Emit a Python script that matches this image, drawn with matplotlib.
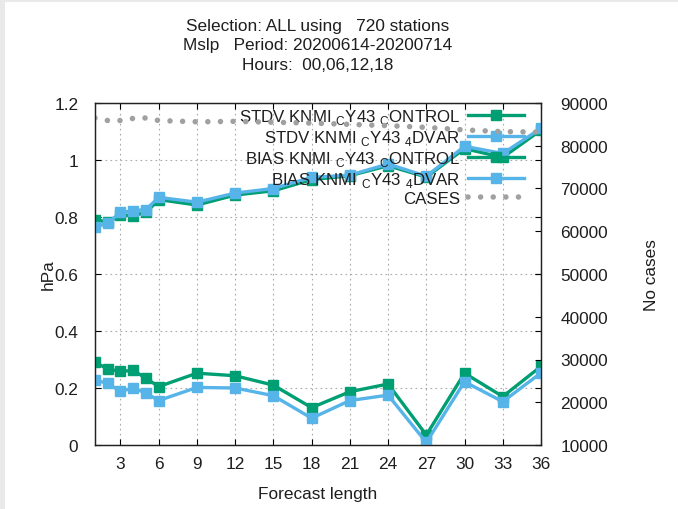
import matplotlib
matplotlib.use("Agg")
import matplotlib.pyplot as plt
from matplotlib.patches import Rectangle

plt.rcParams['font.family'] = ['Liberation Sans', 'DejaVu Sans']
plt.rcParams['mathtext.fontset'] = 'custom'
plt.rcParams['mathtext.rm'] = 'Liberation Sans'

# Forecast lead times (hours)
lead = [1, 2, 3, 4, 5, 6, 9, 12, 15, 18, 21, 24, 27, 30, 33, 36]

stdv_control = [0.79, 0.783, 0.807, 0.805, 0.816, 0.861, 0.842, 0.877, 0.892, 0.931,
                0.945, 0.98, 0.94, 1.04, 1.009, 1.105]
stdv_4dvar = [0.764, 0.779, 0.816, 0.822, 0.826, 0.869, 0.852, 0.884, 0.90, 0.939,
              0.947, 0.986, 0.943, 1.048, 1.023, 1.111]
bias_control = [0.290, 0.267, 0.258, 0.262, 0.234, 0.205, 0.252, 0.243, 0.210, 0.131,
                0.187, 0.214, 0.035, 0.252, 0.170, 0.276]
bias_4dvar = [0.228, 0.216, 0.188, 0.200, 0.182, 0.156, 0.202, 0.200, 0.173, 0.094,
              0.156, 0.175, 0.009, 0.222, 0.152, 0.253]
cases = [86500, 85900, 85900, 86400, 86500, 85900, 85600, 85700, 85500, 85300,
         85000, 84700, 84300, 83700, 83300, 83200]

labels = [r"STDV KNMI ${}_\mathregular{C}$Y43 ${}_\mathregular{C}$ONTROL",
          r"STDV KNMI ${}_\mathregular{C}$Y43 ${}_\mathregular{4}$DVAR",
          r"BIAS KNMI ${}_\mathregular{C}$Y43 ${}_\mathregular{C}$ONTROL",
          r"BIAS KNMI ${}_\mathregular{C}$Y43 ${}_\mathregular{4}$DVAR",
          "CASES"]
title_lines = ["Selection: ALL using   720 stations",
               "Mslp   Period: 20200614-20200714",
               "Hours:  00,06,12,18"]
x_ticks = list(range(3, 37, 3))
y_ticks = [0, 0.2, 0.4, 0.6, 0.8, 1.0, 1.2]
y_ticklabels = ["0", "0.2", "0.4", "0.6", "0.8", "1", "1.2"]
y2_ticks = list(range(10000, 90001, 10000))

GREEN = "#009e73"
BLUE = "#56b4e9"
GREY = "#a0a0a0"
TXT = "#1e1e1e"
FS = 12.4

W, H = 678, 510
fig = plt.figure(figsize=(W / 100, H / 100), dpi=100)
fig.patch.set_facecolor("#e9e9e9")
fig.patches.append(Rectangle((5 / W, 0), 1 - 5 / W, 1 - 3 / H, transform=fig.transFigure,
                             facecolor="white", edgecolor="none", zorder=-10))

ax = fig.add_axes([95 / W, 1 - 446 / H, (541 - 95) / W, (446 - 104) / H])
ax.set_facecolor("none")
ax2 = ax.twinx()

lw = 2.4
ms = 7.2
h1, = ax.plot(lead, stdv_control, color=GREEN, lw=lw, marker="s", ms=ms, zorder=3)
h2, = ax.plot(lead, stdv_4dvar, color=BLUE, lw=lw, marker="s", ms=ms, zorder=4)
h3, = ax.plot(lead, bias_control, color=GREEN, lw=lw, marker="s", ms=ms, zorder=3)
h4, = ax.plot(lead, bias_4dvar, color=BLUE, lw=lw, marker="s", ms=ms, zorder=4)
h5, = ax2.plot(lead, cases, color=GREY, lw=4.0, linestyle=(0, (0.001, 2.27)),
               dash_capstyle="round")

ax.set_xlim(1, 36)
ax.set_ylim(0, 1.2)
ax2.set_ylim(10000, 90000)

ax.set_xticks(x_ticks)
ax.set_yticks(y_ticks)
ax.set_yticklabels(y_ticklabels)
ax2.set_yticks(y2_ticks)

ax.grid(True, color="#aaaaaa", linestyle=(0, (1.5, 3)), linewidth=0.8)
ax.tick_params(axis="both", direction="in", length=4.5, width=0.8, labelsize=FS,
               top=True, right=True, colors="black")
ax.tick_params(axis="x", pad=8, labelcolor=TXT)
ax.tick_params(axis="y", pad=12, labelcolor=TXT)
ax2.tick_params(axis="y", direction="in", length=4.5, width=0.8, labelsize=FS,
                pad=14, labelcolor=TXT)
for a in (ax, ax2):
    for s in a.spines.values():
        s.set_linewidth(0.9)
        s.set_color("#222222")

ax.set_xlabel("Forecast length", fontsize=FS, color=TXT, labelpad=11)
ax.set_ylabel("hPa", fontsize=FS, color=TXT, labelpad=-1)
ax2.set_ylabel("No cases", fontsize=FS, color=TXT, labelpad=26)

for i, line in enumerate(title_lines):
    fig.text(318 / W, 1 - (26.5 + 19.3 * i) / H, line, ha="center", va="center",
             fontsize=FS, color=TXT)

leg = ax.legend([h1, h2, h3, h4, h5], labels, loc="upper right",
                bbox_to_anchor=((528 - 95) / 446, 1.0),
                frameon=False, markerfirst=False, fontsize=12.2,
                handlelength=3.3, handletextpad=0.45, labelspacing=0.12,
                borderaxespad=0.0, borderpad=0.25, numpoints=1)
for t in leg.get_texts():
    t.set_color(TXT)
leg.set_zorder(10)

fig.savefig("out.png", dpi=100, facecolor=fig.get_facecolor())
